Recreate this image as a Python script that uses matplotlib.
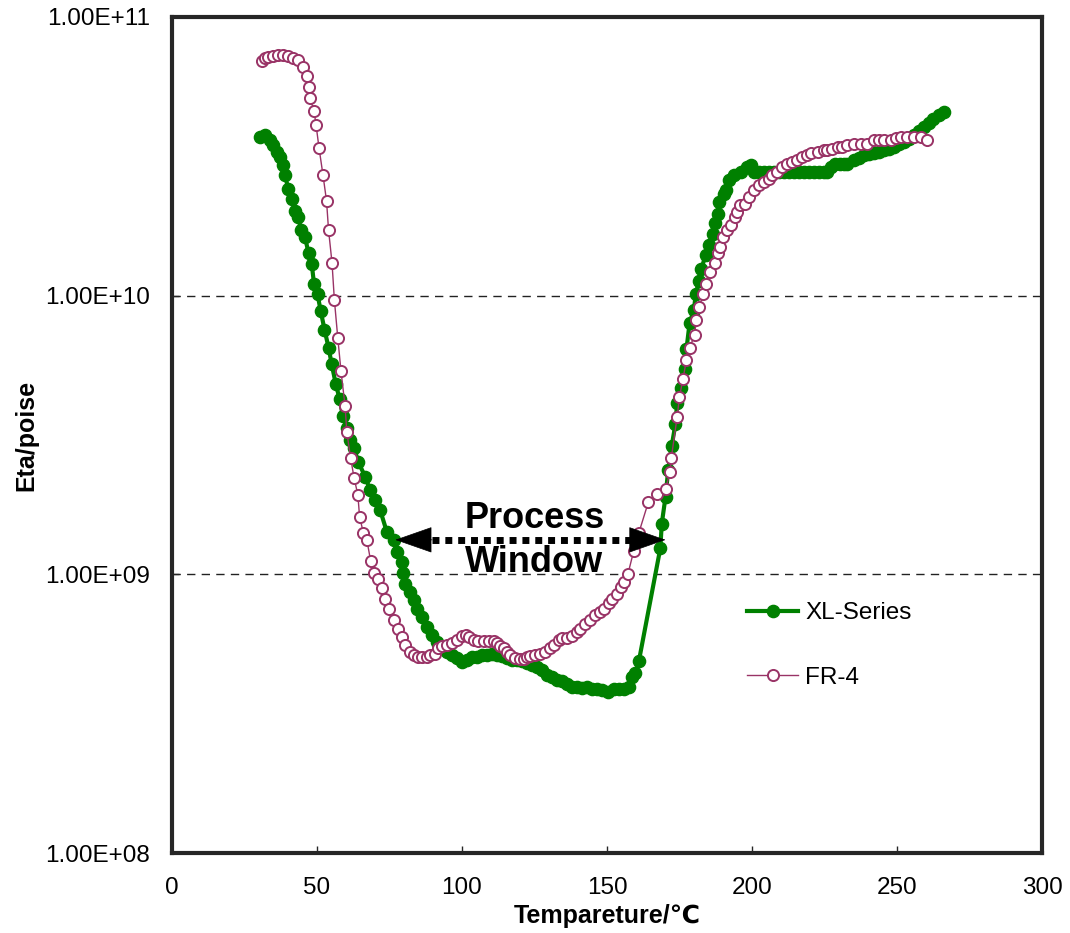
import numpy as np
import matplotlib.pyplot as plt
from matplotlib.ticker import FixedLocator, FuncFormatter, NullLocator

plt.rcParams['font.family'] = ['Liberation Sans', 'DejaVu Sans']

# XL-Series: temperature (C) and viscosity (poise)
xl_temp = [30.4, 32.1, 33.8, 35.0, 36.1, 37.3, 38.2, 39.0, 40.1, 41.5, 42.5, 43.6, 44.5, 45.9,
           47.1, 48.2, 49.0, 50.2, 51.3, 52.6, 54.0, 55.1, 56.5, 57.8, 58.9, 60.3, 61.4, 62.8,
           64.3, 66.6, 68.4, 70.1, 71.8, 74.1, 76.4, 77.6, 79.3, 79.8, 80.4, 82.2, 83.3, 84.5,
           86.2, 87.9, 89.6, 91.4, 93.1, 94.8, 96.6, 98.3, 100.0, 101.7, 103.5, 105.2, 106.9,
           108.6, 110.4, 112.1, 113.8, 115.5, 117.3, 119.0, 120.7, 122.4, 124.2, 125.9, 127.6,
           129.4, 131.1, 132.8, 134.5, 136.3, 138.0, 139.7, 141.4, 143.2, 144.9, 146.6, 148.3,
           150.4, 152.3, 154.1, 155.8, 157.5, 158.7, 159.8, 161.0, 168.4, 168.9, 170.2, 171.1,
           172.3, 173.6, 174.2, 175.4, 176.8, 177.4, 178.5, 180.0, 180.6, 181.7, 182.6, 184.0,
           185.1, 186.5, 187.2, 188.2, 188.8, 190.3, 191.2, 192.0, 193.8, 196.1, 198.2, 199.5,
           200.7, 202.4, 204.1, 205.9, 207.6, 209.3, 211.0, 212.8, 214.5, 216.2, 217.9, 219.7,
           221.4, 223.1, 224.8, 226.0, 227.1, 228.8, 230.5, 231.7, 232.9, 235.2, 236.9, 238.6,
           240.4, 242.1, 243.8, 245.5, 247.2, 249.0, 250.7, 252.5, 254.2, 255.9, 257.6, 259.4,
           260.9, 262.3, 264.5, 266.3]
xl_eta = [3.71e10, 3.76e10, 3.61e10, 3.47e10, 3.28e10, 3.15e10, 2.94e10, 2.70e10, 2.42e10, 2.23e10,
          2.02e10, 1.92e10, 1.72e10, 1.62e10, 1.42e10, 1.30e10, 1.10e10, 1.01e10, 8.81e9, 7.56e9,
          6.51e9, 5.67e9, 4.81e9, 4.27e9, 3.71e9, 3.34e9, 3.03e9, 2.83e9, 2.53e9, 2.24e9, 2.00e9,
          1.85e9, 1.70e9, 1.42e9, 1.33e9, 1.20e9, 1.11e9, 1.01e9, 9.27e8, 8.65e8, 8.07e8, 7.54e8,
          7.03e8, 6.48e8, 6.04e8, 5.72e8, 5.49e8, 5.27e8, 5.13e8, 4.99e8, 4.85e8, 4.92e8, 5.05e8,
          5.05e8, 5.13e8, 5.15e8, 5.20e8, 5.15e8, 5.10e8, 5.01e8, 4.92e8, 4.92e8, 4.88e8, 4.79e8,
          4.72e8, 4.65e8, 4.53e8, 4.35e8, 4.28e8, 4.17e8, 4.15e8, 4.03e8, 3.94e8, 3.93e8, 3.92e8,
          3.93e8, 3.89e8, 3.89e8, 3.86e8, 3.78e8, 3.89e8, 3.89e8, 3.89e8, 3.94e8, 4.28e8, 4.41e8,
          4.88e8, 1.24e9, 1.52e9, 1.90e9, 2.36e9, 2.88e9, 3.46e9, 4.12e9, 4.68e9, 5.47e9, 6.41e9,
          7.98e9, 8.92e9, 1.01e10, 1.13e10, 1.25e10, 1.40e10, 1.52e10, 1.67e10, 1.82e10, 1.97e10,
          2.17e10, 2.32e10, 2.40e10, 2.59e10, 2.70e10, 2.78e10, 2.89e10, 2.94e10, 2.78e10, 2.78e10,
          2.78e10, 2.78e10, 2.78e10, 2.78e10, 2.78e10, 2.78e10, 2.78e10, 2.78e10, 2.78e10, 2.78e10,
          2.78e10, 2.78e10, 2.78e10, 2.78e10, 2.90e10, 2.98e10, 2.98e10, 2.98e10, 2.98e10, 3.06e10,
          3.12e10, 3.19e10, 3.22e10, 3.25e10, 3.28e10, 3.32e10, 3.37e10, 3.42e10, 3.49e10, 3.56e10,
          3.66e10, 3.76e10, 3.89e10, 4.03e10, 4.18e10, 4.32e10, 4.44e10, 4.56e10]

# FR-4
fr_temp = [31.0, 32.1, 33.2, 35.0, 36.7, 38.4, 40.1, 41.9, 43.6, 45.1, 46.5, 47.1, 47.6, 49.0,
           49.7, 50.7, 52.1, 53.3, 54.0, 55.2, 56.0, 57.2, 58.3, 59.7, 60.3, 61.6, 62.8, 64.1,
           64.7, 66.0, 67.2, 68.5, 69.8, 71.0, 72.4, 73.6, 74.9, 76.4, 78.1, 79.3, 80.4, 82.2,
           83.3, 85.0, 86.2, 87.9, 89.1, 90.8, 91.9, 93.1, 94.8, 96.6, 98.3, 100.0, 101.5, 102.6,
           104.0, 105.7, 107.5, 109.2, 110.9, 112.1, 113.2, 114.4, 115.7, 116.7, 118.4, 120.1,
           121.3, 122.4, 123.6, 125.3, 127.0, 128.8, 130.5, 131.6, 133.4, 134.5, 136.3, 138.0,
           139.7, 140.8, 142.6, 144.3, 146.0, 147.7, 148.9, 150.6, 151.8, 153.5, 154.7, 155.8,
           157.2, 159.2, 161.0, 164.3, 167.3, 170.2, 171.7, 172.2, 174.2, 175.0, 176.2, 177.4,
           178.6, 180.2, 180.8, 181.8, 183.2, 184.3, 185.7, 187.1, 188.2, 188.9, 190.1, 191.5,
           192.9, 194.0, 194.7, 195.8, 197.5, 199.0, 200.7, 202.4, 204.1, 205.9, 207.0, 208.7,
           210.5, 212.2, 213.9, 215.7, 217.4, 219.1, 220.2, 222.6, 224.8, 226.0, 227.7, 229.5,
           231.2, 232.9, 235.2, 237.5, 239.8, 242.1, 243.8, 245.5, 247.9, 249.6, 251.3, 253.6,
           255.9, 258.2, 260.5]
fr_eta = [6.95e10, 7.11e10, 7.19e10, 7.22e10, 7.29e10, 7.29e10, 7.22e10, 7.15e10, 7.03e10, 6.62e10,
          6.13e10, 5.61e10, 5.12e10, 4.60e10, 4.09e10, 3.40e10, 2.70e10, 2.19e10, 1.72e10, 1.31e10,
          9.68e9, 7.02e9, 5.35e9, 4.01e9, 3.24e9, 2.62e9, 2.22e9, 1.93e9, 1.61e9, 1.41e9, 1.33e9,
          1.12e9, 1.01e9, 9.60e8, 8.94e8, 8.16e8, 7.54e8, 6.84e8, 6.39e8, 5.96e8, 5.57e8, 5.27e8,
          5.13e8, 5.05e8, 5.05e8, 5.05e8, 5.13e8, 5.20e8, 5.42e8, 5.52e8, 5.57e8, 5.65e8, 5.80e8,
          6.00e8, 6.05e8, 5.96e8, 5.80e8, 5.77e8, 5.77e8, 5.77e8, 5.77e8, 5.67e8, 5.52e8, 5.42e8,
          5.27e8, 5.13e8, 5.03e8, 4.95e8, 4.95e8, 5.05e8, 5.08e8, 5.13e8, 5.20e8, 5.27e8, 5.42e8,
          5.57e8, 5.80e8, 5.93e8, 5.93e8, 6.00e8, 6.21e8, 6.39e8, 6.66e8, 6.84e8, 7.13e8, 7.33e8,
          7.54e8, 7.86e8, 8.19e8, 8.53e8, 9.01e8, 9.39e8, 1.00e9, 1.21e9, 1.41e9, 1.82e9, 1.94e9,
          2.02e9, 2.32e9, 2.62e9, 3.67e9, 4.33e9, 5.02e9, 5.87e9, 6.51e9, 7.25e9, 8.16e9, 9.11e9,
          1.01e10, 1.10e10, 1.22e10, 1.31e10, 1.42e10, 1.50e10, 1.62e10, 1.72e10, 1.80e10, 1.92e10,
          2.00e10, 2.11e10, 2.14e10, 2.26e10, 2.39e10, 2.50e10, 2.56e10, 2.63e10, 2.70e10, 2.78e10,
          2.90e10, 2.98e10, 3.02e10, 3.06e10, 3.15e10, 3.19e10, 3.24e10, 3.28e10, 3.32e10, 3.32e10,
          3.37e10, 3.42e10, 3.42e10, 3.47e10, 3.51e10, 3.51e10, 3.51e10, 3.61e10, 3.61e10, 3.61e10,
          3.61e10, 3.67e10, 3.71e10, 3.72e10, 3.72e10, 3.71e10, 3.61e10]

y_ticks = [1e8, 1e9, 1e10, 1e11]
x_ticks = [0, 50, 100, 150, 200, 250, 300]

fig = plt.figure(figsize=(10.7, 9.33), dpi=100)
ax = fig.add_axes([0.1607, 0.0857, 0.8131, 0.8961])

ax.plot(xl_temp, xl_eta, color='#008000', lw=3, marker='o', ms=8.8, mfc='#008000',
        mec='#008000', label='XL-Series', zorder=3)
ax.plot(fr_temp, fr_eta, color='#993366', lw=1, marker='o', ms=8, mfc='white',
        mec='#993366', mew=1.4, label='FR-4', zorder=4)

ax.set_yscale('log')
ax.set_xlim(0, 300)
ax.set_ylim(1e8, 1e11)
ax.yaxis.set_major_locator(FixedLocator(y_ticks))
ax.yaxis.set_minor_locator(NullLocator())
ax.yaxis.set_major_formatter(FuncFormatter(lambda v, p: f'{v:.2E}'))
ax.xaxis.set_major_locator(FixedLocator(x_ticks))

for s in ax.spines.values():
    s.set_linewidth(3)
    s.set_color('#262626')
ax.tick_params(axis='both', direction='in', length=5, width=1, labelsize=17.5, color='#262626')
ax.tick_params(axis='x', pad=17)
ax.tick_params(axis='y', pad=16)

for v in [1e9, 1e10]:
    ax.axhline(v, color='#222222', lw=1, ls=(0, (6, 4.5)), zorder=1)

ax.set_xlabel('Tempareture/℃', fontsize=18, fontweight='bold', labelpad=4)
ax.set_ylabel('Eta/poise', fontsize=18, fontweight='bold', labelpad=5)

# process window arrow
ya = 1.33e9
ax.plot([89.5, 159.5], [ya, ya], color='black', lw=5, ls=(0, (1, 0.85)),
        solid_capstyle='butt', dash_capstyle='butt', zorder=5)
for tip, base in [(77, 89.7), (170.2, 159.1)]:
    ax.annotate('', xy=(tip, ya), xytext=(base, ya),
                arrowprops=dict(arrowstyle='-|>,head_length=1.0,head_width=0.35',
                                mutation_scale=25, color='black', lw=0.5,
                                shrinkA=0, shrinkB=0), zorder=6)
ax.text(125, 1.32e9, 'Process\nWindow', ha='center', va='center', fontsize=26,
        fontweight='bold', linespacing=1.33, zorder=6)

leg = ax.legend(loc='center left', bbox_to_anchor=(0.661, 0.248), frameon=False,
                fontsize=17.5, labelspacing=1.75, handlelength=2.1, handletextpad=0.3,
                borderpad=0, borderaxespad=0)

fig.savefig('out.png', dpi=100)
